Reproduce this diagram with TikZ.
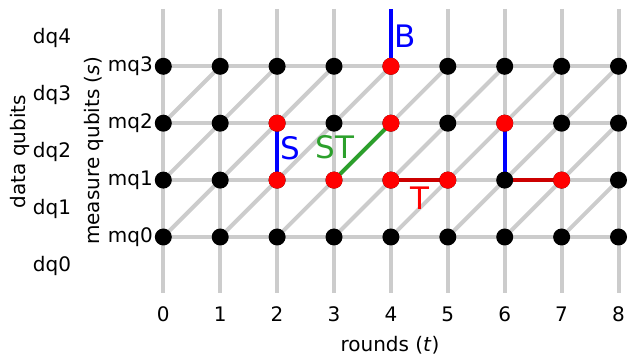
\documentclass[tikz,border=0pt]{standalone}
\usepackage{fontspec}
\setmainfont{DejaVu Sans}
\definecolor{gridgray}{HTML}{CCCCCC}
\definecolor{stgreen}{HTML}{2CA02C}
\definecolor{tred}{HTML}{CC0000}
\begin{document}
\begin{tikzpicture}[x=1pt,y=-1pt,
  gridline/.style={draw=gridgray,line width=4pt},
  dot/.style={circle,fill=black,minimum size=17pt,inner sep=0pt},
  reddot/.style={dot,fill=red},
  bluee/.style={draw=blue,line width=4pt},
  greene/.style={draw=stgreen,line width=4pt},
  rede/.style={draw=tred,line width=4pt},
  lbl/.style={font=\fontsize{20}{24}\selectfont,inner sep=0pt},
  biglbl/.style={font=\fontsize{31}{36}\selectfont,inner sep=0pt}
]
\useasboundingbox (0,0) rectangle (629,355);
\foreach \t in {0,...,8} {
  \coordinate (top\t) at ({163.3+56.9*\t},9);
  \coordinate (bot\t) at ({163.3+56.9*\t},293);
  \foreach \s in {0,...,3}
    \coordinate (p\t-\s) at ({163.3+56.9*\t},{237-56.9*\s});
}
% grid
\foreach \t in {0,...,8} \draw[gridline] (top\t) -- (bot\t);
\foreach \s in {0,...,3} \draw[gridline] (p0-\s) -- (p8-\s);
\foreach \t in {0,...,7} {
  \foreach \s in {0,1,2} {
    \pgfmathtruncatemacro\tnext{\t+1}
    \pgfmathtruncatemacro\snext{\s+1}
    \draw[gridline] (p\t-\s) -- (p\tnext-\snext);
  }
}
% coloured edges
\draw[bluee] (p4-3) -- (top4);
\draw[bluee] (p2-1) -- (p2-2);
\draw[greene] (p3-1) -- (p4-2);
\draw[rede] (p4-1) -- (p5-1);
\draw[bluee] (p6-1) -- (p6-2);
\draw[rede] (p6-1) -- (p7-1);
% nodes
\foreach \t in {0,...,8}
  \foreach \s in {0,...,3}
    \node[dot] (n\t-\s) at (p\t-\s) {};
\foreach \t/\s in {4/3,2/2,4/2,6/2,2/1,3/1,4/1,5/1,7/1}
  \node[reddot] (r\t-\s) at (p\t-\s) {};
% edge labels
\node[biglbl,text=blue] (lB) at (405,36) {B};
\node[biglbl,text=blue] (lS) at (290,148) {S};
\node[biglbl,text=stgreen] (lST) at (335,147) {ST};
\node[biglbl,text=red] (lT) at (420,198) {T};
% axis labels
\foreach \t in {0,...,8}
  \node[lbl] (tick\t) at ({163.3+56.9*\t},314) {\t};
\node[lbl] (xlab) at (390,345) {rounds (\textit{t})};
\foreach \s in {0,...,3}
  \node[lbl,anchor=east] (mq\s) at (153,{237-56.9*\s}) {mq\s};
\foreach \d in {0,...,4}
  \node[lbl] (dq\d) at (52,{265.5-56.9*\d}) {dq\d};
\node[lbl,rotate=90] (dlab) at (20,151.5) {data qubits};
\node[lbl,rotate=90] (mlab) at (94,151) {measure qubits (\textit{s})};
\end{tikzpicture}
\end{document}
